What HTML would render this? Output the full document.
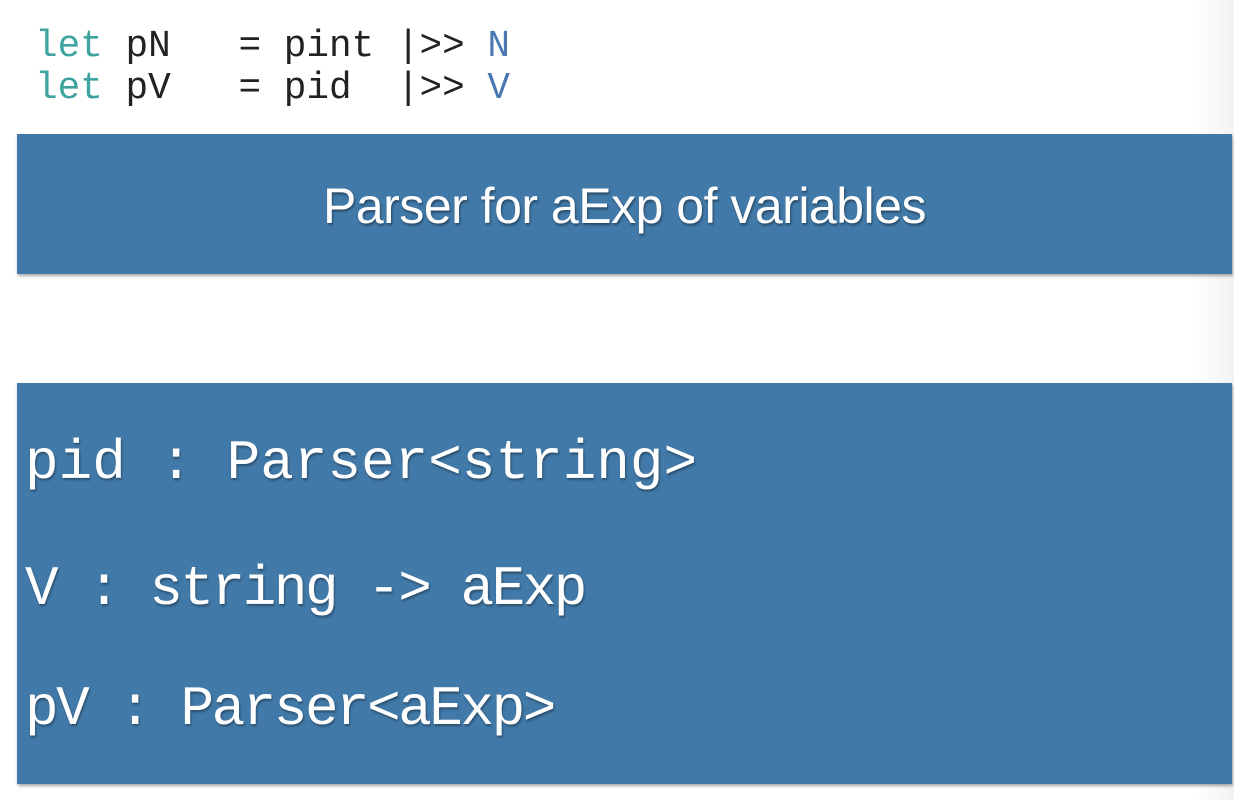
<!DOCTYPE html>
<html><head><style>
body{margin:0;width:1234px;height:800px;background:#fff;position:relative;overflow:hidden;font-family:"Liberation Mono",monospace}
.code{position:absolute;left:35px;top:26px;font-size:37.7px;line-height:42px;color:#222;white-space:pre}
.k{color:#3fa3a0}.c{color:#4a78b0}
.box{position:absolute;left:17px;width:1215px;background:#4179a8;box-shadow:1px 2px 3px rgba(0,0,0,.35)}
.t{position:absolute;left:0;right:0;text-align:center;color:#fff;font-family:"Liberation Sans",sans-serif;font-size:50px;line-height:57px;text-shadow:1px 2px 2px rgba(0,0,0,.4);letter-spacing:-0.5px}
.m{position:absolute;left:8px;color:#fff;font-size:56px;white-space:pre;text-shadow:1px 2px 2px rgba(0,0,0,.35);line-height:60px}
.edge{position:absolute;right:0;top:0;width:40px;height:800px;background:linear-gradient(to right,#fff,#f3f3f3)}
</style></head><body>
<div class="edge"></div>
<div class="code"><span class="k">let</span> pN   = pint |&gt;&gt; <span class="c">N</span>
<span class="k">let</span> pV   = pid  |&gt;&gt; <span class="c">V</span></div>
<div class="box" style="top:134px;height:140px"><div class="t" style="top:44px">Parser for aExp of variables</div></div>
<div class="box" style="top:383px;height:401px">
<div class="m" style="top:50px">pid : Parser&lt;string&gt;</div>
<div class="m" style="top:176px;letter-spacing:-2.5px">V : string -&gt; aExp</div>
<div class="m" style="top:296px;letter-spacing:-2.5px">pV : Parser&lt;aExp&gt;</div>
</div>
</body></html>
